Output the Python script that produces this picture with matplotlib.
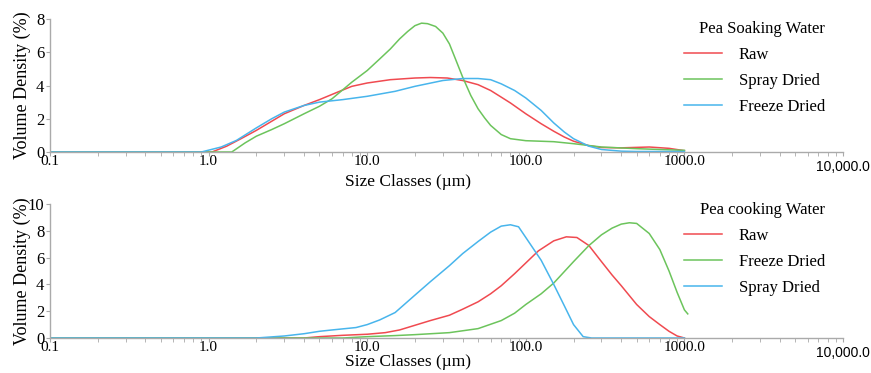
import matplotlib.pyplot as plt
import matplotlib.transforms as mtransforms

# --- Pea Soaking Water (top panel) ---
soak_raw_x = [0.1, 1.05, 1.3, 1.6, 2.0, 2.5, 3.0, 4.0, 5.0, 6.5, 8.0, 10.0, 14.0, 20.0, 25.0, 32.0,
              40.0, 50.0, 60.0, 70.0, 80.0, 100.0, 125.0, 150.0, 175.0, 200.0, 250.0, 300.0, 400.0,
              600.0, 800.0, 1000.0]
soak_raw_y = [0.0, 0.0, 0.35, 0.8, 1.3, 1.85, 2.3, 2.8, 3.15, 3.6, 3.95, 4.15, 4.35, 4.45, 4.48, 4.45,
              4.3, 4.05, 3.7, 3.3, 2.95, 2.3, 1.7, 1.25, 0.9, 0.65, 0.38, 0.27, 0.25, 0.3, 0.22, 0.08]

soak_spray_x = [0.1, 1.4, 1.7, 2.0, 2.5, 3.0, 4.0, 5.0, 6.0, 8.0, 10.0, 12.0, 14.0, 16.0, 18.0, 20.0,
                22.0, 24.0, 27.0, 30.0, 33.0, 36.0, 40.0, 45.0, 50.0, 55.0, 60.0, 70.0, 80.0, 100.0,
                150.0, 200.0, 300.0, 500.0, 1000.0]
soak_spray_y = [0.0, 0.0, 0.55, 0.95, 1.35, 1.7, 2.3, 2.75, 3.2, 4.2, 4.9, 5.6, 6.2, 6.8, 7.25, 7.6,
                7.75, 7.72, 7.55, 7.15, 6.5, 5.6, 4.5, 3.4, 2.6, 2.05, 1.6, 1.05, 0.8, 0.68,
                0.62, 0.5, 0.3, 0.2, 0.1]

soak_freeze_x = [0.1, 0.9, 1.2, 1.5, 2.0, 2.5, 3.0, 4.0, 5.0, 7.0, 10.0, 15.0, 20.0, 30.0, 40.0, 50.0,
                 60.0, 70.0, 85.0, 100.0, 125.0, 150.0, 175.0, 200.0, 250.0, 300.0, 400.0, 500.0, 1000.0]
soak_freeze_y = [0.0, 0.0, 0.3, 0.7, 1.45, 2.0, 2.4, 2.8, 3.0, 3.15, 3.35, 3.65, 3.95, 4.3, 4.42, 4.42,
                 4.35, 4.1, 3.7, 3.25, 2.5, 1.75, 1.2, 0.8, 0.35, 0.15, 0.05, 0.03, 0.03]

# --- Pea cooking Water (bottom panel) ---
cook_raw_x = [0.1, 4.0, 5.0, 7.0, 10.0, 13.0, 16.0, 20.0, 25.0, 33.0, 40.0, 50.0, 60.0, 70.0, 85.0, 100.0,
              120.0, 150.0, 180.0, 210.0, 250.0, 300.0, 350.0, 400.0, 500.0, 600.0, 700.0, 800.0, 900.0, 1000.0]
cook_raw_y = [0.0, 0.0, 0.1, 0.2, 0.28, 0.4, 0.6, 0.95, 1.3, 1.7, 2.15, 2.7, 3.3, 3.9, 4.8, 5.6,
              6.5, 7.25, 7.55, 7.5, 6.9, 5.7, 4.7, 3.9, 2.5, 1.6, 1.0, 0.5, 0.15, 0.0]

cook_freeze_x = [0.1, 7.0, 10.0, 15.0, 20.0, 33.0, 50.0, 70.0, 85.0, 100.0, 125.0, 150.0, 200.0, 250.0,
                 300.0, 350.0, 400.0, 450.0, 500.0, 600.0, 700.0, 800.0, 900.0, 1000.0, 1050.0]
cook_freeze_y = [0.0, 0.0, 0.1, 0.18, 0.25, 0.4, 0.7, 1.3, 1.85, 2.5, 3.3, 4.1, 5.7, 6.9, 7.7, 8.2, 8.5, 8.6,
                 8.55, 7.8, 6.6, 5.0, 3.4, 2.1, 1.8]

cook_spray_x = [0.1, 2.0, 3.0, 4.0, 5.0, 6.0, 7.0, 8.5, 10.0, 12.0, 15.0, 20.0, 25.0, 33.0, 40.0, 50.0,
                60.0, 70.0, 80.0, 90.0, 100.0, 125.0, 150.0, 175.0, 200.0, 230.0, 260.0, 1000.0]
cook_spray_y = [0.0, 0.0, 0.15, 0.32, 0.5, 0.6, 0.68, 0.78, 1.0, 1.35, 1.9, 3.2, 4.2, 5.4, 6.3, 7.2,
                7.9, 8.35, 8.45, 8.3, 7.5, 5.8, 4.0, 2.4, 1.0, 0.1, 0.0, 0.0]

x_ticks = [0.1, 1.0, 10.0, 100.0, 1000.0, 10000.0]
x_tick_labels = ['0.1', '1.0', '10.0', '100.0', '1000.0', '']

RED = '#f04a50'
GREEN = '#6cc45c'
BLUE = '#48b5ec'

plt.rcParams['font.family'] = ['Liberation Serif', 'DejaVu Serif']

fig = plt.figure(figsize=(8.71, 3.73), dpi=100)
ax1 = fig.add_axes([50 / 871, 1 - 152 / 373, 793 / 871, 133 / 373])
ax2 = fig.add_axes([50 / 871, 1 - 338 / 373, 793 / 871, 134 / 373])


def style_axis(ax, ymax, yticks, title, labels, series, xlabel_y, legend_y):
    for (xs, ys, c), lab in zip(series, labels):
        ax.plot(xs, ys, color=c, lw=1.1, label=lab)
    ax.set_xscale('log')
    ax.set_xlim(0.1, 10000)
    ax.set_ylim(0, ymax)
    ax.set_yticks(yticks)
    ax.set_xticks(x_ticks)
    ax.set_xticklabels(x_tick_labels)
    for s in ['top', 'right']:
        ax.spines[s].set_visible(False)
    for s in ['left', 'bottom']:
        ax.spines[s].set_color('#aaaaaa')
        ax.spines[s].set_linewidth(1.0)
    ax.tick_params(axis='both', which='both', colors='#aaaaaa', labelcolor='black', labelsize=12)
    ax.tick_params(axis='x', which='major', length=3, pad=-1, labelsize=11)
    ax.tick_params(axis='x', which='minor', length=3)
    ax.tick_params(axis='y', which='major', length=3, pad=1)
    ax.set_ylabel('Volume Density (%)', fontsize=13)
    ax.yaxis.set_label_coords(-0.024, 0.5)
    trans = mtransforms.blended_transform_factory(ax.transData, ax.transAxes)
    ax.text(10000, -0.06, '10,000.0', transform=trans, ha='center', va='top',
            fontsize=10, family='Liberation Sans')
    fig.text(408 / 871, xlabel_y, 'Size Classes (\u00b5m)', fontsize=12.5,
             ha='center', va='center')
    ax.legend(title=title, loc='upper left', frameon=False, fontsize=12, title_fontsize=12,
              handlelength=2.3, handletextpad=1.0, labelspacing=0.6, borderaxespad=0,
              borderpad=0, alignment='right',
              bbox_to_anchor=(684 / 871, legend_y), bbox_transform=fig.transFigure)


style_axis(ax1, 8, [0, 2, 4, 6, 8], 'Pea Soaking Water',
           ['Raw', 'Spray Dried', 'Freeze Dried'],
           [(soak_raw_x, soak_raw_y, RED), (soak_spray_x, soak_spray_y, GREEN),
            (soak_freeze_x, soak_freeze_y, BLUE)],
           1 - 182 / 373, 1 - 21 / 373)

style_axis(ax2, 10, [0, 2, 4, 6, 8, 10], 'Pea cooking Water',
           ['Raw', 'Freeze Dried', 'Spray Dried'],
           [(cook_raw_x, cook_raw_y, RED), (cook_freeze_x, cook_freeze_y, GREEN),
            (cook_spray_x, cook_spray_y, BLUE)],
           1 - 362 / 373, 1 - 202 / 373)

fig.savefig('out.png', dpi=100)
